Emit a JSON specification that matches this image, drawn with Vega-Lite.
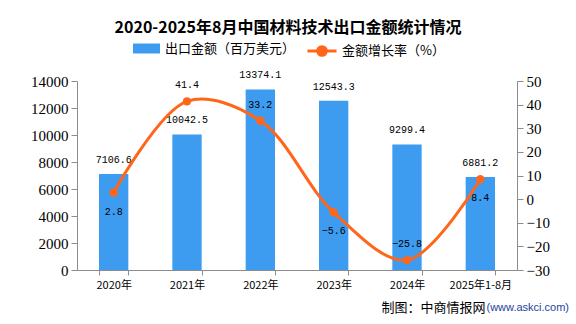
{
  "$schema": "https://vega.github.io/schema/vega-lite/v6.json",
  "width": 440,
  "height": 189,
  "autosize": {"type": "none"},
  "padding": {"left": 77, "top": 81, "right": 59, "bottom": 54},
  "background": "white",
  "title": {
    "text": "2020-2025年8月中国材料技术出口金额统计情况",
    "font": "Noto Sans CJK SC",
    "fontSize": 16,
    "fontWeight": "bold",
    "color": "#000000",
    "anchor": "middle",
    "frame": "group",
    "dx": -9,
    "offset": -1
  },
  "config": {
    "view": {"stroke": null},
    "axis": {
      "domainColor": "#8c8c8c",
      "tickColor": "#8c8c8c",
      "grid": false,
      "labelColor": "#000000"
    }
  },
  "data": {
    "values": [
      {"year": "2020年", "amount": 7106.6, "growth": 2.8},
      {"year": "2021年", "amount": 10042.5, "growth": 41.4},
      {"year": "2022年", "amount": 13374.1, "growth": 33.2},
      {"year": "2023年", "amount": 12543.3, "growth": -5.6},
      {"year": "2024年", "amount": 9299.4, "growth": -25.8},
      {"year": "2025年1-8月", "amount": 6881.2, "growth": 8.4}
    ]
  },
  "layer": [
    {
      "encoding": {
        "x": {
          "field": "year",
          "type": "nominal",
          "sort": null,
          "scale": {"paddingInner": 0.6, "paddingOuter": 0.3},
          "axis": {
            "orient": "bottom",
            "labelAngle": 0,
            "labelFont": "Noto Sans CJK SC",
            "labelFontSize": 11,
            "labelPadding": 4,
            "tickBand": "extent",
            "tickSize": 5,
            "title": "制图：中商情报网",
            "titleFont": "Noto Sans CJK SC",
            "titleFontSize": 13,
            "titleFontWeight": "normal",
            "titleColor": "#000000",
            "titleX": 408,
            "titleY": 37,
            "titleAlign": "right",
            "titleBaseline": "middle",
            "titleAnchor": null
          }
        },
        "y": {
          "field": "amount",
          "type": "quantitative",
          "scale": {"domain": [0, 14000], "nice": false},
          "axis": {
            "orient": "left",
            "title": null,
            "values": [0, 2000, 4000, 6000, 8000, 10000, 12000, 14000],
            "format": "d",
            "labelFont": "Liberation Serif",
            "labelFontSize": 15,
            "labelPadding": 3,
            "tickSize": 6
          }
        }
      },
      "layer": [
        {
          "mark": {"type": "bar"},
          "encoding": {
            "fill": {
              "datum": "出口金额（百万美元）",
              "type": "nominal",
              "scale": {"range": ["#3d9cf0"]},
              "legend": {
                "orient": "none",
                "legendX": 56,
                "legendY": -46,
                "title": null,
                "symbolType": "M-1,-0.37H1V0.37H-1Z",
                "symbolSize": 729,
                "symbolStrokeWidth": 0,
                "labelFont": "Noto Sans CJK SC",
                "labelFontSize": 13,
                "labelColor": "#000000",
                "labelOffset": 5
              }
            }
          }
        },
        {
          "mark": {
            "type": "text",
            "baseline": "bottom",
            "dy": -9,
            "font": "Liberation Mono",
            "fontSize": 10,
            "color": "#000000"
          },
          "encoding": {
            "text": {"field": "amount", "type": "quantitative", "format": ".1f"}
          }
        }
      ]
    },
    {
      "encoding": {
        "x": {
          "field": "year",
          "type": "nominal",
          "sort": null,
          "axis": {
            "orient": "bottom",
            "labels": false,
            "ticks": false,
            "domain": false,
            "title": "(www.askci.com)",
            "titleFont": "Liberation Sans",
            "titleFontSize": 11,
            "titleFontWeight": "normal",
            "titleColor": "#1f3fa0",
            "titleX": 409,
            "titleY": 37,
            "titleAlign": "left",
            "titleBaseline": "middle",
            "titleAnchor": null
          }
        },
        "y": {
          "field": "growth",
          "type": "quantitative",
          "scale": {"domain": [-30, 50], "nice": false},
          "axis": {
            "orient": "right",
            "title": null,
            "values": [-30, -20, -10, 0, 10, 20, 30, 40, 50],
            "labelFont": "Liberation Serif",
            "labelFontSize": 15,
            "labelPadding": 3,
            "tickSize": 6
          }
        }
      },
      "layer": [
        {
          "mark": {"type": "line", "interpolate": "catmull-rom", "strokeWidth": 3},
          "encoding": {
            "stroke": {
              "datum": "金额增长率（%）",
              "type": "nominal",
              "scale": {"range": ["#ff661a"]},
              "legend": {
                "orient": "none",
                "legendX": 229,
                "legendY": -46,
                "title": null,
                "symbolType": "M-1,0H1M-0.3,0A0.3,0.3 0 1,1 0.3,0A0.3,0.3 0 1,1 -0.3,0Z",
                "symbolSize": 841,
                "symbolStrokeWidth": 3,
                "symbolFillColor": "#ff661a",
                "labelFont": "Noto Sans CJK SC",
                "labelFontSize": 13,
                "labelColor": "#000000",
                "labelOffset": 4,
                "encode": {"symbols": {"update": {"fill": {"value": "#ff661a"}}}}
              }
            }
          }
        },
        {
          "mark": {"type": "point", "filled": true, "size": 70, "color": "#ff661a", "opacity": 1}
        },
        {
          "transform": [{"filter": {"field": "year", "oneOf": ["2021年", "2022年", "2024年"]}}],
          "mark": {
            "type": "text",
            "baseline": "middle",
            "dy": -16,
            "font": "Liberation Mono",
            "fontSize": 10,
            "color": "#000000"
          },
          "encoding": {
            "text": {"field": "growth", "type": "quantitative", "format": ".1f"}
          }
        },
        {
          "transform": [{"filter": {"field": "year", "oneOf": ["2020年", "2023年", "2025年1-8月"]}}],
          "mark": {
            "type": "text",
            "baseline": "middle",
            "dy": 19,
            "font": "Liberation Mono",
            "fontSize": 10,
            "color": "#000000"
          },
          "encoding": {
            "text": {"field": "growth", "type": "quantitative", "format": ".1f"}
          }
        }
      ]
    }
  ],
  "resolve": {"scale": {"y": "independent"}, "axis": {"x": "independent"}}
}
